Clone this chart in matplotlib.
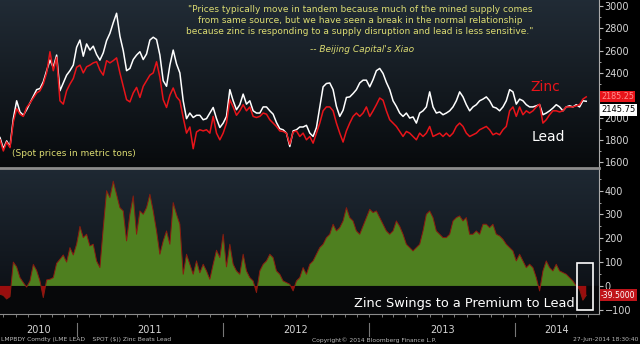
import numpy as np
import pandas as pd
import matplotlib
matplotlib.use("Agg")
import matplotlib.pyplot as plt
import matplotlib.dates as mdates
from matplotlib.lines import Line2D
from matplotlib.patches import Rectangle
from matplotlib.ticker import MultipleLocator

# Preços spot (US$/t), amostrados em intervalos regulares de jun/2010 a 27/jun/2014
lead = [1820, 1720, 1790, 1740, 1990, 2150, 2050, 2020, 2070, 2130,
        2190, 2250, 2260, 2320, 2420, 2515, 2450, 2560, 2240, 2310,
        2380, 2420, 2470, 2630, 2695, 2550, 2660, 2605, 2640, 2565,
        2515, 2580, 2690, 2755, 2850, 2935, 2730, 2600, 2420, 2440,
        2520, 2560, 2590, 2520, 2570, 2695, 2720, 2700, 2560, 2330,
        2280, 2470, 2605, 2480, 2400, 2150, 1990, 2040, 2000, 2020,
        2020, 1980, 1990, 2040, 2090, 1990, 1910, 1950, 2010, 2250,
        2150, 2070, 2115, 2210, 2120, 2150, 2060, 2040, 2040, 2095,
        2095, 2060, 2030, 1955, 1900, 1890, 1860, 1740, 1880, 1890,
        1915, 1915, 1930, 1860, 1830, 1910, 2095, 2275, 2305, 2310,
        2250, 2100, 2010, 2065, 2180, 2185, 2215, 2250, 2310, 2335,
        2335, 2275, 2340, 2420, 2440, 2395, 2315, 2250, 2150, 2100,
        2040, 2010, 2040, 1995, 2005, 1950, 2040, 2060, 2095, 2230,
        2095, 2040, 2050, 2025, 2040, 2060, 2095, 2150, 2230, 2185,
        2115, 2060, 2095, 2115, 2150, 2165, 2185, 2150, 2095, 2085,
        2060, 2095, 2150, 2250, 2230, 2120, 2165, 2150, 2115, 2095,
        2095, 2105, 2115, 2025, 2040, 2060, 2085, 2115, 2095, 2060,
        2095, 2105, 2095, 2115, 2095, 2150, 2145.75]

zinc = [1800, 1700, 1780, 1730, 1960, 2080, 2030, 2010, 2090, 2130,
        2175, 2220, 2240, 2300, 2400, 2590, 2420, 2540, 2150, 2120,
        2240, 2300, 2350, 2450, 2470, 2400, 2455, 2470, 2490, 2500,
        2425, 2380, 2510, 2490, 2510, 2535, 2400, 2280, 2160, 2140,
        2220, 2270, 2180, 2280, 2330, 2380, 2400, 2500, 2360, 2160,
        2090, 2200, 2265, 2185, 2150, 2000, 1860, 1915, 1720, 1870,
        1890, 1880, 1890, 1860, 2010, 1860, 1800, 1860, 1950, 2160,
        2095, 2020, 2060, 2115, 2060, 2095, 2010, 2000, 2010, 2040,
        2030, 1980, 1950, 1920, 1880, 1875, 1860, 1760, 1870, 1880,
        1830, 1860, 1800, 1830, 1770, 1860, 1950, 2060, 2095, 2095,
        2060, 1950, 1860, 1780, 1880, 1950, 2010, 2040, 2010, 2040,
        2095, 2010, 2060, 2115, 2175, 2155, 2060, 1980, 1950, 1920,
        1875, 1830, 1875, 1860, 1830, 1800, 1860, 1830, 1860, 1920,
        1830, 1845, 1860, 1830, 1860, 1830, 1860, 1920, 1950, 1920,
        1860, 1830, 1845, 1860, 1890, 1905, 1920, 1890, 1845, 1860,
        1845, 1890, 1920, 2060, 2095, 2010, 2095, 2025, 2060, 2040,
        2060, 2095, 2120, 1950, 1980, 2025, 2060, 2060, 2050, 2060,
        2095, 2095, 2095, 2105, 2115, 2165, 2185.25]

# Diferença chumbo - zinco (painel de baixo)
spread = [-35, -40, -55, -45, 100, 80, 35, 14, -5, 21,
          90, 65, 21, -49, 25, 28, 35, 95, 112, 130,
          100, 161, 130, 175, 250, 203, 217, 168, 175, 105,
          77, 245, 400, 371, 440, 385, 329, 315, 189, 301,
          378, 217, 315, 301, 329, 385, 315, 231, 133, 189,
          231, 175, 350, 301, 259, 49, 133, 91, 49, 105,
          55, 91, 63, 28, 91, 150, 119, 217, 80, 175,
          91, 63, 49, 133, 63, 35, 21, -28, 63, 91,
          105, 133, 119, 63, 49, 21, 14, 7, -21, 21,
          35, 77, 49, 91, 105, 133, 161, 175, 203, 217,
          259, 231, 245, 273, 329, 287, 273, 231, 217, 252,
          287, 322, 308, 315, 287, 259, 231, 217, 231, 273,
          250, 217, 175, 161, 147, 161, 175, 231, 301, 315,
          287, 231, 217, 203, 203, 217, 273, 287, 294, 273,
          287, 217, 217, 231, 217, 259, 259, 245, 259, 217,
          210, 196, 175, 161, 147, 105, 133, 105, 77, 91,
          77, 35, -21, 63, 105, 77, 63, 91, 63, 56,
          49, 35, 21, 0, -14, -60, -39.5]

years = ["2010", "2011", "2012", "2013", "2014"]
year_centers = ["2010-09-27", "2011-07-02", "2012-07-02", "2013-07-02", "2014-04-15"]
year_starts = ["2011-01-01", "2012-01-01", "2013-01-01", "2014-01-01"]

dates = pd.date_range("2010-06-23", "2014-06-27", periods=len(lead))
lead = np.array(lead)
zinc = np.array(zinc)
spread = np.array(spread)

fig = plt.figure(figsize=(6.4, 3.44), dpi=100, facecolor="black")
ax1 = fig.add_axes([0, 0.5145, 0.936, 0.4855])
ax2 = fig.add_axes([0, 0.0872, 0.936, 0.4215], sharex=ax1)

amarelo = "#dcdc72"
cinza = "#d5d5d5"


# fundo em degradê (azul escuro -> preto)
def fundo(ax, c_top, c_bot):
    t = np.linspace(0, 1, 256)[:, None]
    img = np.array(c_top)[None, :] * (1 - t) + np.array(c_bot)[None, :] * t
    ax.imshow(img.reshape(256, 1, 3), extent=[0, 1, 0, 1], transform=ax.transAxes,
              aspect="auto", zorder=0, origin="upper")


fundo(ax1, (0.13, 0.17, 0.21), (0.03, 0.04, 0.05))
fundo(ax2, (0.12, 0.16, 0.20), (0.04, 0.05, 0.07))

# painel de cima: preços
ax1.plot(dates, lead, color="white", lw=1.1, zorder=3)
ax1.plot(dates, zinc, color="#e8141a", lw=1.1, zorder=4)
ax1.set_ylim(1556, 3054)

# painel de baixo: diferença
ax2.axhspan(-200, 0, color="#07080a", zorder=1)
ax2.fill_between(dates, 0, spread, where=spread >= 0, interpolate=True,
                 color="#4e7f1f", lw=0, zorder=2)
ax2.fill_between(dates, 0, spread, where=spread < 0, interpolate=True,
                 color="#9a0e0e", lw=0, zorder=2)
ax2.plot(dates, spread, color="#8a1a10", lw=0.7, zorder=3)
ax2.set_ylim(-118, 491)

ax1.set_xlim(pd.Timestamp("2010-06-23"), pd.Timestamp("2014-07-29"))

for ax in (ax1, ax2):
    ax.set_facecolor("black")
    ax.yaxis.tick_right()
    ax.tick_params(axis="y", which="both", colors="#bbbbbb", labelcolor=cinza,
                   labelsize=7, direction="out", pad=1)
    ax.tick_params(axis="y", which="major", length=3)
    ax.tick_params(axis="y", which="minor", length=1.5)
    for s in ("top", "left", "bottom"):
        ax.spines[s].set_visible(False)
    ax.spines["right"].set_color("#aaaaaa")
    ax.spines["right"].set_linewidth(0.8)

ax1.yaxis.set_major_locator(MultipleLocator(200))
ax1.yaxis.set_minor_locator(MultipleLocator(100))
ax1.set_yticks(range(1600, 3001, 200))
ax2.yaxis.set_major_locator(MultipleLocator(100))
ax2.yaxis.set_minor_locator(MultipleLocator(50))
ax2.set_yticks(range(-100, 401, 100))

ax1.tick_params(axis="x", which="both", bottom=False, labelbottom=False)
ax2.spines["bottom"].set_visible(True)
ax2.spines["bottom"].set_color("#8c8c8c")
ax2.xaxis.set_major_locator(mdates.MonthLocator())
ax2.tick_params(axis="x", which="major", colors="#8c8c8c", length=2, width=0.6,
                direction="out", labelbottom=False)

# linha cinza separando os painéis
fig.add_artist(Line2D([0, 0.936], [0.5116, 0.5116], color="#8c8c8c", lw=2))

# etiquetas de valor no eixo direito
ax1.annotate("2185.25", xy=(1.0, 2185.25), xycoords=("axes fraction", "data"),
             xytext=(1.5, 0), textcoords="offset points", va="center", ha="left",
             fontsize=5.8, color="#ff9090",
             bbox=dict(boxstyle="square,pad=0.12", fc="#e8141a", ec="none"),
             annotation_clip=False, zorder=5)
ax1.annotate("2145.75", xy=(1.0, 2068), xycoords=("axes fraction", "data"),
             xytext=(1.5, 0), textcoords="offset points", va="center", ha="left",
             fontsize=6, color="black",
             bbox=dict(boxstyle="square,pad=0.18", fc="white", ec="none"),
             annotation_clip=False, zorder=6)
ax2.annotate("-39.5000", xy=(1.0, -39.5), xycoords=("axes fraction", "data"),
             xytext=(1.5, 0), textcoords="offset points", va="center", ha="left",
             fontsize=5.6, color="white",
             bbox=dict(boxstyle="square,pad=0.18", fc="#c0141a", ec="none"),
             annotation_clip=False, zorder=6)

# citação
quote = ('"Prices typically move in tandem because much of the mined supply comes\n'
         'from same source, but we have seen a break in the normal relationship\n'
         'because zinc is responding to a supply disruption and lead is less sensitive."')
fig.text(360 / 640, 1 - 5 / 344, quote, color=amarelo, fontsize=6.5, ha="center",
         va="top", linespacing=1.25)
fig.text(362 / 640, 1 - 49 / 344, "-- Beijing Capital's Xiao", color=amarelo,
         fontsize=6.5, ha="center", va="center", style="italic")
fig.text(12 / 640, 1 - 154 / 344, "(Spot prices in metric tons)", color=amarelo,
         fontsize=6.5, ha="left", va="center")

fig.text(530 / 640, 1 - 87 / 344, "Zinc", color="#e8141a", fontsize=10,
         ha="left", va="center")
fig.text(532 / 640, 1 - 137 / 344, "Lead", color="white", fontsize=10,
         ha="left", va="center")

# destaque no painel de baixo
ax2.text(pd.Timestamp("2014-05-30"), -72, "Zinc Swings to a Premium to Lead",
         color="white", fontsize=9.3, ha="right", va="center", zorder=6)
ax2.add_patch(Rectangle((mdates.date2num(pd.Timestamp("2014-06-05")), -100),
                        mdates.date2num(pd.Timestamp("2014-07-14")) - mdates.date2num(pd.Timestamp("2014-06-05")),
                        197, fill=False, ec="white", lw=1.2, zorder=6))

# anos e separadores
trans = ax2.get_xaxis_transform()
for y, c in zip(years, year_centers):
    ax2.text(pd.Timestamp(c), -0.11, y, transform=trans, color=cinza, fontsize=7,
             ha="center", va="center")
for s in year_starts:
    ax2.plot([pd.Timestamp(s)] * 2, [-0.06, -0.15], transform=trans, color="#777777",
             lw=0.8, clip_on=False)

# rodapé
fig.text(0.002, 0.012, "LMPBDY Comdty (LME LEAD    SPOT ($)) Zinc Beats Lead",
         color="#bbbbbb", fontsize=4.3, ha="left", va="center")
fig.text(312 / 640, 0.012, "Copyright\u00a9 2014 Bloomberg Finance L.P.",
         color="#bbbbbb", fontsize=4.3, ha="left", va="center")
fig.text(0.998, 0.012, "27-Jun-2014 18:30:40", color="#bbbbbb", fontsize=4.3,
         ha="right", va="center")

fig.savefig("out.png", dpi=100, facecolor="black")
